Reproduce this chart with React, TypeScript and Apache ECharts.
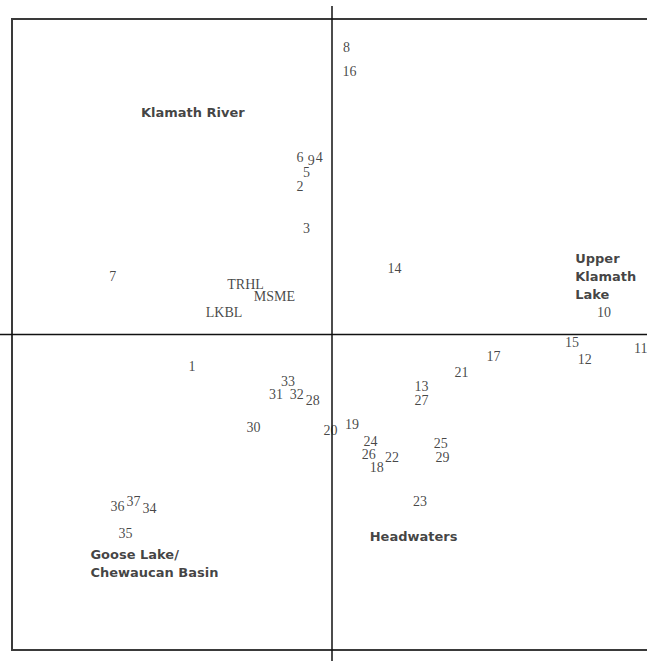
import React, { useEffect, useRef } from "react";
import * as echarts from "echarts";

// Site scores (ordination axis 1 / axis 2)
const siteNames = [
  "1", "2", "3", "4", "5", "6", "7", "8", "9", "10",
  "11", "12", "13", "14", "15", "16", "17", "18", "19", "20",
  "21", "22", "23", "24", "25", "26", "27", "28", "29", "30",
  "31", "32", "33", "34", "35", "36", "37", "TRHL", "MSME", "LKBL",
];
const siteAxis1 = [
  -0.875, -0.2, -0.16, -0.08, -0.16, -0.2, -1.37, 0.09, -0.13, 1.7,
  1.93, 1.58, 0.56, 0.39, 1.5, 0.11, 1.01, 0.28, 0.125, -0.01,
  0.81, 0.375, 0.55, 0.24, 0.68, 0.23, 0.56, -0.12, 0.69, -0.49,
  -0.35, -0.22, -0.275, -1.14, -1.29, -1.34, -1.24, -0.54, -0.36, -0.675,
];
const siteAxis2 = [
  -0.2, 0.94, 0.67, 1.12, 1.03, 1.12, 0.37, 1.82, 1.1, 0.14,
  -0.09, -0.16, -0.33, 0.42, -0.05, 1.67, -0.14, -0.84, -0.57, -0.61,
  -0.24, -0.78, -1.06, -0.68, -0.69, -0.76, -0.42, -0.42, -0.78, -0.59,
  -0.38, -0.38, -0.3, -1.1, -1.26, -1.09, -1.06, 0.32, 0.24, 0.14,
];

// Group annotations
const groupNames = ["Klamath River", "Upper\nKlamath\nLake", "Headwaters", "Goose Lake/\nChewaucan Basin"];
const groupAxis1 = [-0.87, 1.52, 0.51, -1.51];
const groupAxis2 = [1.41, 0.37, -1.28, -1.45];
const groupLeftAligned = [false, true, false, true];

const AXIS_MIN = -2;
const AXIS_MAX = 2;

export default function App() {
  const ref = useRef<HTMLDivElement>(null);

  useEffect(() => {
    if (!ref.current) return;
    const chart = echarts.init(ref.current, null, { renderer: "svg" });

    const siteData = siteNames.map((n, i) => ({ name: n, value: [siteAxis1[i], siteAxis2[i]] }));
    const groupData = groupNames.map((n, i) => ({
      name: n,
      value: [groupAxis1[i], groupAxis2[i]],
      label: groupLeftAligned[i]
        ? { position: "right", distance: 0, align: "left" }
        : { position: "inside" },
    }));

    chart.setOption({
      animation: false,
      backgroundColor: "#ffffff",
      grid: {
        left: 12,
        top: 19,
        width: 640,
        height: 631,
        outerBoundsMode: "none",
        containLabel: false,
        show: true,
        borderColor: "#3a3a3a",
        borderWidth: 2,
        backgroundColor: "transparent",
      },
      xAxis: {
        type: "value",
        min: AXIS_MIN,
        max: AXIS_MAX,
        axisLine: { show: false },
        axisTick: { show: false },
        axisLabel: { show: false },
        splitLine: { show: false },
      },
      yAxis: {
        type: "value",
        min: AXIS_MIN,
        max: AXIS_MAX,
        axisLine: { show: false },
        axisTick: { show: false },
        axisLabel: { show: false },
        splitLine: { show: false },
      },
      series: [
        {
          type: "scatter",
          silent: true,
          symbolSize: 0,
          data: siteData,
          label: {
            show: true,
            position: "inside",
            formatter: "{b}",
            fontFamily: "Liberation Serif",
            fontSize: 14,
            color: "#151515",
            textBorderWidth: 0,
            textBorderColor: "transparent",
          },
        },
        {
          type: "scatter",
          silent: true,
          symbolSize: 0,
          data: groupData,
          label: {
            show: true,
            formatter: "{b}",
            fontFamily: "DejaVu Sans",
            fontWeight: "bold",
            fontSize: 13,
            lineHeight: 18,
            color: "#111111",
            textBorderWidth: 0,
            textBorderColor: "transparent",
          },
        },
      ],
    });

    const origin = chart.convertToPixel({ gridIndex: 0 }, [0, 0]) as number[];
    chart.setOption({
      graphic: [
        {
          type: "line",
          silent: true,
          shape: { x1: 0, y1: origin[1], x2: 647, y2: origin[1] },
          style: { stroke: "#111111", lineWidth: 1.5 },
        },
        {
          type: "line",
          silent: true,
          shape: { x1: origin[0], y1: 6, x2: origin[0], y2: 661 },
          style: { stroke: "#111111", lineWidth: 1.5 },
        },
      ],
    });

    return () => chart.dispose();
  }, []);

  return (
    <div
      ref={ref}
      style={{ position: "fixed", left: 0, top: 0, width: 647, height: 661, background: "#fff" }}
    />
  );
}
